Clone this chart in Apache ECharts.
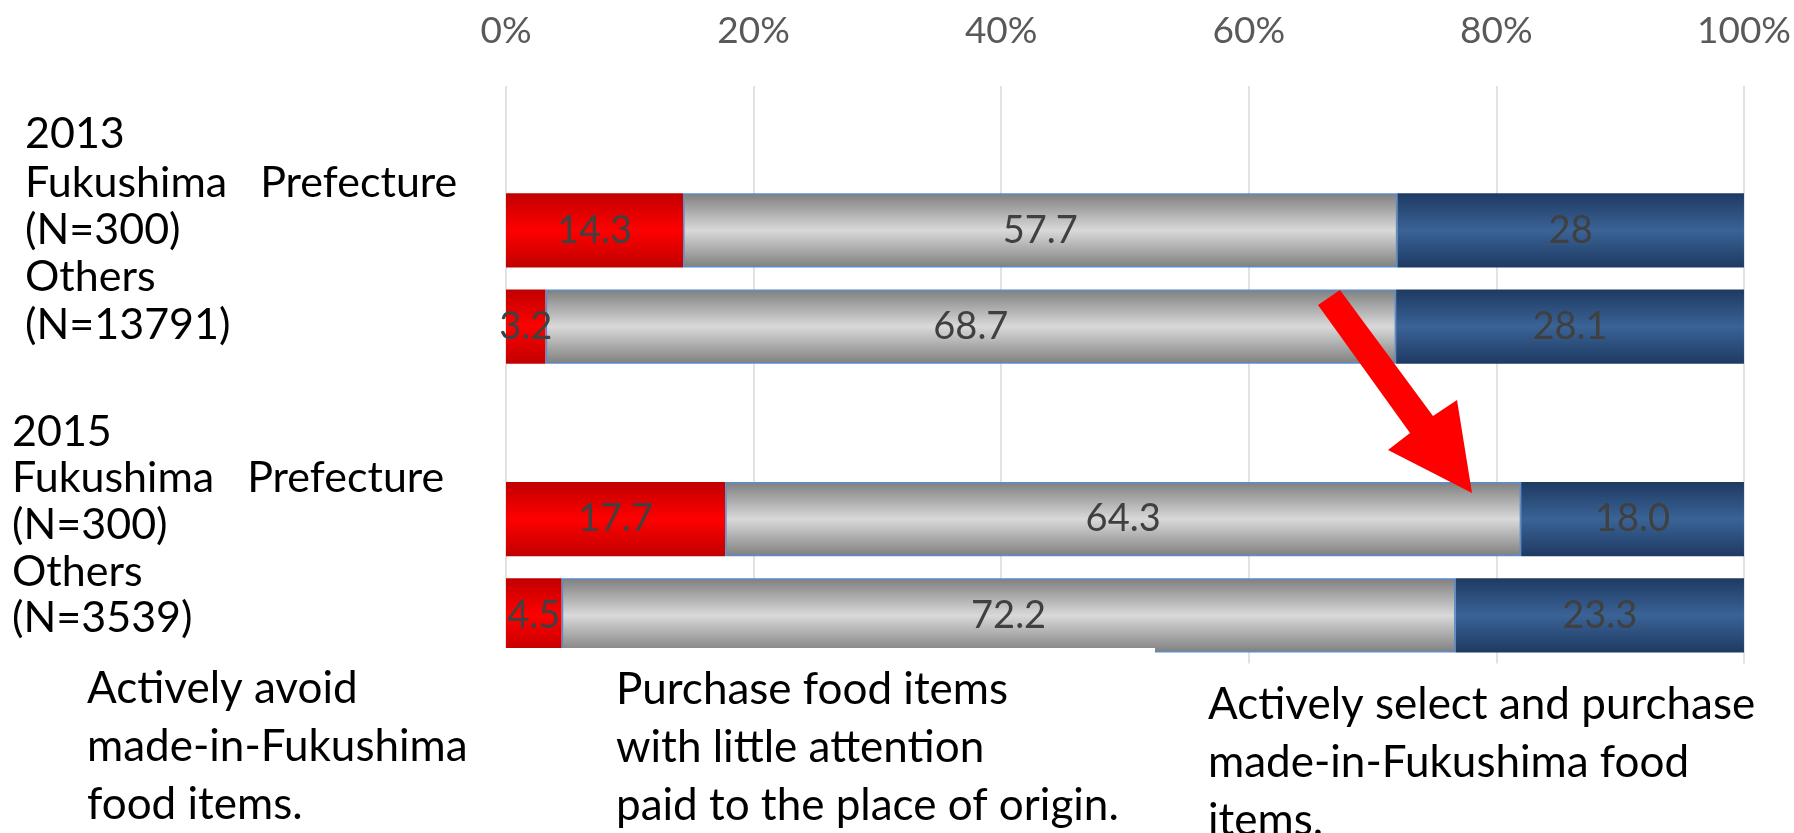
<!DOCTYPE html>
<html>
<head>
<meta charset="utf-8">
<script src="https://cdn.jsdelivr.net/npm/echarts@6/dist/echarts.min.js"></script>
<style>
  html, body { margin: 0; padding: 0; background: #ffffff; }
  #chart { width: 1794px; height: 833px; }
</style>
</head>
<body>
<div id="chart"></div>
<script>
// Rows of the survey, top to bottom (year header rows carry no bars)
const categories = ['2013', '2013 Fukushima Prefecture', '2013 Others', '2015', '2015 Fukushima Prefecture', '2015 Others'];
const rowLabelLines = [
  ['2013'],
  ['Fukushima   Prefecture', '(N=300)'],
  ['Others', '(N=13791)'],
  ['2015'],
  ['Fukushima   Prefecture', '(N=300)'],
  ['Others', '(N=3539)']
];

// Shares in percent, written as printed on the bars
const avoidShare = [null, '14.3', '3.2', null, '17.7', '4.5'];
const indifferentShare = [null, '57.7', '68.7', null, '64.3', '72.2'];
const selectShare = [null, '28', '28.1', null, '18.0', '23.3'];

const seriesNames = ['Actively avoid', 'Little attention to origin', 'Actively select'];
const answerTexts = [
  'Actively avoid\nmade-in-Fukushima\nfood items.',
  'Purchase food items\nwith little attention\npaid to the place of origin.',
  'Actively select and purchase\nmade-in-Fukushima food\nitems.'
];

// Percent axis
const axisMin = 0, axisMax = 100, axisStep = 20;

// Layout of the row labels: blank space above / below each label block
const spaceAbove = [0, 0, 0, 19, 0, 0];
const spaceBelow = [0, 48, 51, 0, 35, 41];
const blockStyle = ['y13', 'y13', 'y13', 'y15', 'y15', 'y15'];

const FONT = 'Lato, "Open Sans", sans-serif';

function band(c0, c1) {
  return {
    type: 'linear', x: 0, y: 0, x2: 0, y2: 1,
    colorStops: [
      { offset: 0, color: c0 },
      { offset: 0.5, color: c1 },
      { offset: 1, color: c0 }
    ]
  };
}

const rich = {
  y13: { fontFamily: FONT, fontSize: 43, lineHeight: 47.5, color: '#000000', padding: [0, 0, 0, 13] },
  y15: { fontFamily: FONT, fontSize: 43, lineHeight: 46.5, color: '#000000' }
};
categories.forEach((c, i) => {
  rich['a' + i] = { fontSize: 1, lineHeight: Math.max(spaceAbove[i], 1) };
  rich['b' + i] = { fontSize: 1, lineHeight: Math.max(spaceBelow[i], 1) };
});

function rowLabel(value, index) {
  const parts = [];
  if (spaceAbove[index] > 0) parts.push('{a' + index + '| }');
  rowLabelLines[index].forEach(t => parts.push('{' + blockStyle[index] + '|' + t + '}'));
  if (spaceBelow[index] > 0) parts.push('{b' + index + '| }');
  return parts.join('\n');
}

const barLabel = {
  show: true,
  position: 'inside',
  fontFamily: FONT,
  fontSize: 38,
  color: '#404040',
  formatter: p => p.data
};

function barSeries(name, data, color, border) {
  return {
    name: name,
    type: 'bar',
    stack: 'share',
    barWidth: '77%',
    data: data,
    label: barLabel,
    itemStyle: border
      ? { color: color, borderColor: '#5B8CCB', borderWidth: 1.5 }
      : { color: color, borderWidth: 0 },
    emphasis: { disabled: true }
  };
}

const chart = echarts.init(document.getElementById('chart'), null, { renderer: 'canvas' });

const textTop = [660, 661, 676];
const textLeft = [87, 616, 1208];

chart.setOption({
  backgroundColor: '#ffffff',
  animation: false,
  grid: { left: 506, right: 50, top: 86, bottom: 169.5, containLabel: false },
  xAxis: {
    type: 'value',
    position: 'top',
    min: axisMin,
    max: axisMax,
    interval: axisStep,
    axisLine: { show: false },
    axisTick: { show: false },
    axisLabel: {
      formatter: '{value}%',
      fontFamily: FONT,
      fontSize: 37,
      color: '#595959',
      margin: 36
    },
    splitLine: { show: true, lineStyle: { color: '#D9D9D9', width: 1.5 } }
  },
  yAxis: {
    type: 'category',
    inverse: true,
    data: categories,
    axisLine: { show: false },
    axisTick: { show: false },
    axisLabel: {
      interval: 0,
      align: 'left',
      margin: 494,
      formatter: rowLabel,
      rich: rich
    }
  },
  series: [
    barSeries(seriesNames[0], avoidShare, band('#C00000', '#FF0000'), false),
    barSeries(seriesNames[1], indifferentShare, band('#7F7F7F', '#D9D9D9'), true),
    barSeries(seriesNames[2], selectShare, band('#1E3A62', '#3A6396'), false)
  ],
  graphic: [
    // white panel behind the answer descriptions
    {
      type: 'rect', z: 50, silent: true,
      shape: { x: 0, y: 648, width: 1155, height: 185 },
      style: { fill: '#ffffff' }
    },
    ...answerTexts.map((t, i) => ({
      type: 'text', z: 60, silent: true,
      x: textLeft[i], y: textTop[i],
      style: {
        text: t,
        fill: '#000000',
        font: '44px ' + FONT,
        lineHeight: 58,
        align: 'left',
        verticalAlign: 'top'
      }
    })),
    // red arrow pointing from 2013 to 2015
    {
      type: 'polygon', z: 100, silent: true,
      shape: {
        points: [
          [1318, 305], [1340, 290], [1433, 416], [1457, 400],
          [1472, 493], [1388, 450], [1410, 433]
        ]
      },
      style: { fill: '#FF0000' }
    }
  ]
});
</script>
</body>
</html>
